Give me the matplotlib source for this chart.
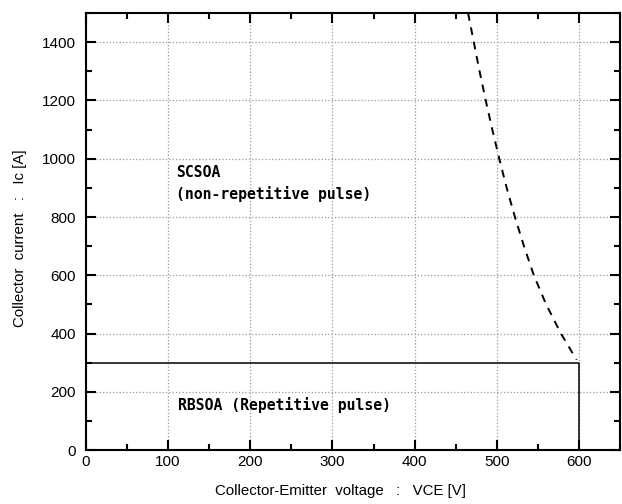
import matplotlib.pyplot as plt
from matplotlib.ticker import MultipleLocator

# SCSOA boundary (dashed)
scsoa_v = [465, 472, 479, 486.5, 494.5, 503, 512, 522, 533, 545, 560, 578, 597]
scsoa_i = [1500, 1400, 1300, 1200, 1100, 1000, 900, 800, 700, 600, 500, 400, 310]

# RBSOA rectangle
rbsoa_v = [0, 600, 600]
rbsoa_i = [300, 300, 0]

plt.rcParams['font.family'] = ['Liberation Sans', 'DejaVu Sans']

fig = plt.figure(figsize=(6.22, 5.04), dpi=100)
ax = fig.add_axes([0.138, 0.107, 0.859, 0.867])

ax.plot(scsoa_v, scsoa_i, color='black', linestyle=(0, (4, 3.5)), linewidth=1.4)
ax.plot(rbsoa_v, rbsoa_i, color='black', linewidth=1.1)

ax.set_xlim(0, 650)
ax.set_ylim(0, 1500)
ax.xaxis.set_major_locator(MultipleLocator(100))
ax.xaxis.set_minor_locator(MultipleLocator(50))
ax.yaxis.set_major_locator(MultipleLocator(200))
ax.yaxis.set_minor_locator(MultipleLocator(100))
ax.set_xticks([0, 100, 200, 300, 400, 500, 600])
ax.tick_params(which='both', direction='in', top=True, right=True, width=1.5, labelsize=11)
ax.tick_params(which='major', length=7)
ax.tick_params(which='minor', length=4)
ax.tick_params(axis='y', pad=7)
ax.grid(True, which='major', color='#999999', linestyle=':', linewidth=0.9)
for s in ax.spines.values():
    s.set_linewidth(1.5)

ax.set_xlabel('Collector-Emitter  voltage   :   VCE [V]', fontsize=10.8)
ax.set_ylabel('Collector  current   :   Ic [A]', fontsize=10.8)
ax.xaxis.set_label_coords(0.476, -0.078)
ax.yaxis.set_label_coords(-0.110, 0.485)

ax.text(110, 977, 'SCSOA\n(non-repetitive pulse)', family='DejaVu Sans Mono',
        fontsize=10.6, fontweight='bold', va='top', ha='left', linespacing=1.45)
ax.text(112, 155, 'RBSOA (Repetitive pulse)', family='DejaVu Sans Mono',
        fontsize=10.6, fontweight='bold', va='center', ha='left')

fig.savefig('out.png', dpi=100)
